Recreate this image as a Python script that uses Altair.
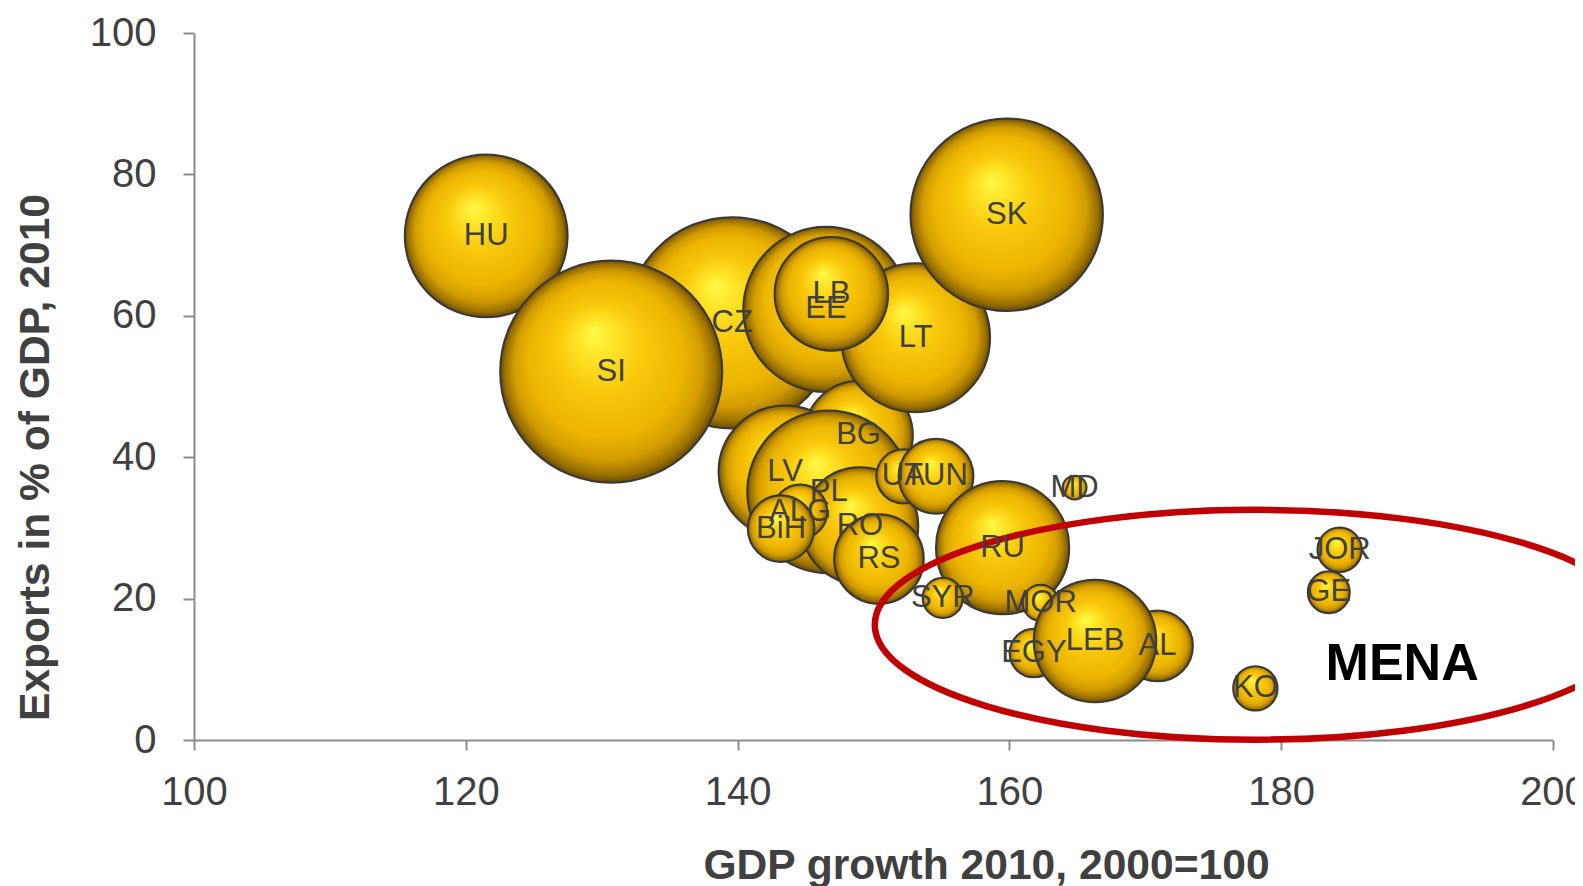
import altair as alt
import pandas as pd

# ---- data ----
countries = ["HU", "CZ", "SI", "EE", "BG", "LT", "SK", "LB", "LV", "PL", "RO", "ALG", "BiH",
             "RS", "UA", "TUN", "RU", "MD", "SYR", "MOR", "EGY", "AL", "LEB", "KO", "JOR", "GE"]
gdp_growth = [121.5, 139.6, 130.7, 146.5, 148.9, 153.1, 159.8, 146.9, 143.5, 146.7, 149.0, 144.6, 143.2,
              150.4, 152.2, 154.6, 159.5, 164.8, 155.1, 162.3, 161.8, 170.9, 166.3, 178.1, 184.3, 183.5]
exports_pct = [71.3, 59.0, 52.1, 60.9, 43.1, 56.9, 74.3, 63.1, 37.9, 35.1, 30.3, 32.3, 29.9,
               25.6, 37.3, 37.3, 27.2, 35.7, 20.1, 19.4, 12.3, 13.3, 14.0, 7.3, 26.9, 20.9]
bubble_size = [19.8, 25.7, 27.0, 20.1, 13.2, 18.1, 23.4, 13.8, 16.2, 19.8, 14.2, 6.6, 8.1,
               10.9, 6.6, 9.1, 16.2, 2.9, 4.9, 4.4, 5.9, 8.6, 14.9, 5.4, 5.4, 5.1]

region_names = ["MENA"]
region_center_x = [178.1]
region_center_y = [16.3]
region_label_x = [188.9]
region_label_y = [10.7]

x_ticks = [100, 120, 140, 160, 180, 200]
y_ticks = [0, 20, 40, 60, 80, 100]

df = pd.DataFrame({
    "country": countries,
    "growth": gdp_growth,
    "exports": exports_pct,
    "size": bubble_size,
    "z": list(range(len(countries))),
})
reg = pd.DataFrame({
    "region": region_names,
    "cx": region_center_x,
    "cy": region_center_y,
    "lx": region_label_x,
    "ly": region_label_y,
})

FONT = "Liberation Sans"
AXIS_GRAY = "#8c8c8c"
TEXT_GRAY = "#404040"

xscale = alt.Scale(domain=[100, 200], nice=False, zero=False)
yscale = alt.Scale(domain=[0, 100], nice=False)

xaxis = alt.Axis(values=x_ticks, format="d", grid=False, labelFlush=False, labelOverlap=False,
                 labelFont=FONT, labelFontSize=40, labelColor=TEXT_GRAY, labelPadding=22,
                 tickSize=10, tickWidth=2, tickColor=AXIS_GRAY, domainColor=AXIS_GRAY, domainWidth=2,
                 title="GDP growth 2010, 2000=100", titleFont=FONT, titleFontSize=42.6,
                 titleFontWeight="bold", titleColor=TEXT_GRAY, titleX=792, titleY=138,
                 titleAlign="center", titleBaseline="alphabetic")
yaxis = alt.Axis(values=y_ticks, format="d", grid=False, labelOverlap=False,
                 labelFont=FONT, labelFontSize=40, labelColor=TEXT_GRAY, labelPadding=27,
                 tickSize=11, tickWidth=2, tickColor=AXIS_GRAY, domainColor=AXIS_GRAY, domainWidth=2,
                 title="Exports in % of GDP, 2010", titleFont=FONT, titleFontSize=42.6,
                 titleFontWeight="bold", titleColor=TEXT_GRAY, titleAngle=270,
                 titleX=-159, titleY=424, titleAlign="center", titleBaseline="middle")

gold = alt.RadialGradient(
    gradient="radial",
    stops=[
        alt.GradientStop(color="#fffa48", offset=0.0),
        alt.GradientStop(color="#ffe62a", offset=0.15),
        alt.GradientStop(color="#f9c80a", offset=0.40),
        alt.GradientStop(color="#ecb500", offset=0.70),
        alt.GradientStop(color="#d29c00", offset=0.85),
        alt.GradientStop(color="#9a7000", offset=0.95),
        alt.GradientStop(color="#664a00", offset=1.0),
    ],
    x1=0.42, y1=0.32, r1=0.0, x2=0.5, y2=0.5, r2=0.5,
)

base = alt.Chart(df)

bubbles = base.mark_circle(fill=gold, stroke="#383838", strokeWidth=2, opacity=1).encode(
    x=alt.X("growth:Q", scale=xscale, axis=xaxis),
    y=alt.Y("exports:Q", scale=yscale, axis=yaxis),
    size=alt.Size("size:Q", scale=alt.Scale(type="pow", exponent=2, domain=[0, 27], range=[0, 49330]),
                  legend=None),
    order=alt.Order("z:Q"),
)

ellipse_path = ("M-1,0C-1,-0.1668,-0.5523,-0.302,0,-0.302C0.5523,-0.302,1,-0.1668,1,0"
                "C1,0.1668,0.5523,0.302,0,0.302C-0.5523,0.302,-1,0.1668,-1,0Z")
ellipse = alt.Chart(reg).mark_point(shape=ellipse_path, size=579400, filled=False,
                                    stroke="#c00000", strokeWidth=6.5, opacity=1).encode(
    x=alt.X("cx:Q", scale=xscale),
    y=alt.Y("cy:Q", scale=yscale),
)

labels = base.mark_text(font=FONT, fontSize=31, color=TEXT_GRAY, align="center",
                        baseline="middle").encode(
    x=alt.X("growth:Q", scale=xscale),
    y=alt.Y("exports:Q", scale=yscale),
    text="country:N",
)

region_label = alt.Chart(reg).mark_text(font=FONT, fontSize=52, fontWeight="bold", color="#000000",
                                        align="center", baseline="middle").encode(
    x=alt.X("lx:Q", scale=xscale),
    y=alt.Y("ly:Q", scale=yscale),
    text="region:N",
)

chart = alt.layer(bubbles, ellipse, labels, region_label).properties(
    width=1359,
    height=707,
    autosize=alt.AutoSizeParams(type="none"),
    padding={"left": 186, "top": 25, "right": 22, "bottom": 146},
    background="white",
).configure_view(strokeWidth=0)

chart.save("out.html", embed_options={"renderer": "svg", "actions": False})
